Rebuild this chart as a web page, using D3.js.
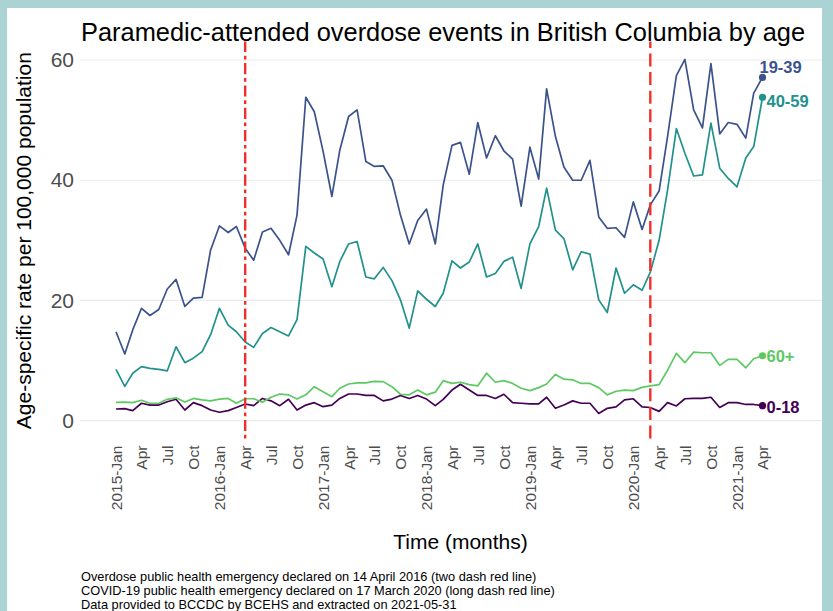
<!DOCTYPE html>
<html>
<head>
<meta charset="utf-8">
<script src="https://cdn.jsdelivr.net/npm/d3@7"></script>
<style>
  html, body { margin: 0; padding: 0; background: #abd3d3; }
  svg { display: block; }
  text { font-family: "Liberation Sans", Arial, sans-serif; }
</style>
</head>
<body>
<svg id="chart" width="833" height="611"></svg>
<script>
// ---- data ----
const startMonth = new Date(2015, 0, 1);
const endMonth = new Date(2021, 3, 1);
const months = d3.timeMonth.range(startMonth, d3.timeMonth.offset(endMonth, 1));

const seriesNames = ["0-18", "19-39", "40-59", "60+"];
const seriesColors = ["#440154", "#3b528b", "#21918c", "#5ec962"];

const age0_18 = [1.95,2.0,1.67,2.9,2.6,2.6,3.16,3.56,1.78,3.0,
  2.5,1.78,1.4,1.67,2.2,2.78,2.5,3.7,3.3,2.5,
  3.56,1.78,2.6,3.0,2.33,2.6,3.7,4.44,4.44,4.2,
  4.2,3.3,3.6,4.2,3.7,4.2,3.6,2.5,3.56,5.1,
  6.05,5.1,4.2,4.2,3.7,4.4,3.0,2.9,2.8,2.8,
  3.9,2.06,2.6,3.3,2.9,2.9,1.2,2.06,2.3,3.45,
  3.65,2.3,2.2,1.55,3.0,2.45,3.65,3.7,3.7,3.9,
  2.2,3.0,3.0,2.7,2.7,2.5];
const age19_39 = [14.8,11.1,15.1,18.7,17.5,18.5,21.9,23.5,19.0,20.4,
  20.5,28.4,32.4,31.3,32.3,28.7,26.7,31.4,32.0,30.0,
  27.6,34.2,53.8,51.4,44.8,37.3,45.0,50.6,51.7,43.1,
  42.3,42.4,40.0,34.2,29.4,33.3,35.2,29.4,39.2,45.8,
  46.3,41.0,49.6,43.7,47.4,44.9,43.5,35.7,45.5,40.2,
  55.2,47.3,42.2,40.0,40.0,43.3,33.9,32.0,32.1,30.5,
  36.4,31.8,35.9,38.2,47.3,57.4,60.1,51.7,48.7,59.4,
  47.7,49.6,49.3,47.0,54.5,57.1];
const age40_59 = [8.55,5.7,7.9,9.0,8.7,8.55,8.3,12.3,9.65,10.4,
  11.5,14.3,18.7,15.9,14.8,13.1,12.2,14.5,15.5,14.8,
  14.1,16.8,29.0,27.9,26.9,22.3,26.5,29.4,29.8,23.9,
  23.6,25.5,23.3,20.1,15.4,21.6,20.2,19.0,21.2,26.6,
  25.4,26.4,29.4,23.9,24.5,26.5,27.2,22.0,29.4,32.3,
  38.7,31.7,30.3,25.1,28.1,27.7,20.1,18.0,25.4,21.2,
  22.6,21.7,24.7,30.0,38.4,48.6,44.5,40.7,40.9,49.5,
  42.0,40.3,38.9,43.7,45.6,53.8];
const age60plus = [3.06,3.1,3.0,3.4,2.9,2.9,3.56,3.8,3.1,3.7,
  3.45,3.3,3.6,3.7,2.9,3.65,3.65,3.06,3.9,4.44,
  4.3,3.6,4.3,5.66,4.8,4.0,5.4,6.1,6.3,6.3,
  6.55,6.5,5.66,4.4,4.3,5.1,4.3,4.75,6.66,6.2,
  6.4,6.0,5.8,7.9,6.4,6.66,6.2,5.4,5.0,5.5,
  6.1,7.7,6.9,6.8,6.2,6.2,5.5,4.3,4.9,5.1,
  5.0,5.55,5.8,6.0,8.4,11.2,9.65,11.4,11.3,11.3,
  9.2,10.2,10.2,8.8,10.3,10.8];
const seriesValues = [age0_18, age19_39, age40_59, age60plus];

const yTicks = [0, 20, 40, 60];
const xTickLabels = ["2015-Jan","Apr","Jul","Oct","2016-Jan","Apr","Jul","Oct",
  "2017-Jan","Apr","Jul","Oct","2018-Jan","Apr","Jul","Oct",
  "2019-Jan","Apr","Jul","Oct","2020-Jan","Apr","Jul","Oct","2021-Jan","Apr"];
const xTickDates = d3.timeMonth.every(3).range(startMonth, d3.timeMonth.offset(endMonth, 1));

const eventDates = [new Date(2016, 3, 1), new Date(2020, 2, 1)];
const eventDash = ["3.7,3.7,11.2,3.7", "13,5.6"];

const titleText = "Paramedic-attended overdose events in British Columbia by age";
const yTitle = "Age-specific rate per 100,000 population";
const xTitle = "Time (months)";
const captionLines = [
  "Overdose public health emergency declared on 14 April 2016 (two dash red line)",
  "COVID-19 public health emergency declared on 17 March 2020 (long dash red line)",
  "Data provided to BCCDC by BCEHS and extracted on 2021-05-31"
];

// ---- layout ----
const svg = d3.select("#chart");
const panel = { left: 80, right: 822, top: 41.5, bottom: 438.5 };

svg.append("rect").attr("x", 7).attr("y", 8).attr("width", 815).attr("height", 603).attr("fill", "#ffffff");

const x = d3.scaleTime().domain([startMonth, endMonth]).range([116, 762.5]);
const y = d3.scaleLinear().domain([0, 60]).range([420.7, 60]);

// gridlines
svg.append("g").selectAll("line").data(yTicks).join("line")
  .attr("x1", panel.left).attr("x2", panel.right)
  .attr("y1", d => y(d)).attr("y2", d => y(d))
  .attr("stroke", "#ebebeb").attr("stroke-width", 1.2);

// y axis
const yAxis = svg.append("g").attr("transform", `translate(${panel.left},0)`)
  .call(d3.axisLeft(y).tickValues(yTicks).tickSize(0).tickPadding(6));
yAxis.select(".domain").remove();
yAxis.selectAll("text").attr("font-size", 21).attr("fill", "#4d4d4d")
  .attr("font-family", "'Liberation Sans', Arial, sans-serif");

// x axis
const xAxis = svg.append("g").attr("transform", `translate(0,${panel.bottom})`)
  .call(d3.axisBottom(x).tickValues(xTickDates).tickFormat((d, i) => xTickLabels[i]).tickSize(0));
xAxis.select(".domain").remove();
xAxis.selectAll("text")
  .attr("font-size", 15.5).attr("fill", "#4d4d4d")
  .attr("font-family", "'Liberation Sans', Arial, sans-serif")
  .attr("transform", "rotate(-90)")
  .attr("text-anchor", "end")
  .attr("x", -7).attr("y", 0).attr("dy", "0.35em");

// lines
const line = d3.line().x((d, i) => x(months[i])).y(d => y(d));
svg.append("g").selectAll("path").data(seriesValues).join("path")
  .attr("d", d => line(d))
  .attr("fill", "none")
  .attr("stroke", (d, i) => seriesColors[i])
  .attr("stroke-width", 1.7)
  .attr("stroke-linejoin", "round");

// end dots
const last = months.length - 1;
svg.append("g").selectAll("circle").data(seriesValues).join("circle")
  .attr("cx", x(months[last])).attr("cy", d => y(d[last]))
  .attr("r", 3.6).attr("fill", (d, i) => seriesColors[i]);

// end labels (small pixel nudges like ggrepel)
const labelNudge = [[4, 1.5], [-3, -10.5], [4, 3.5], [4, 0.5]];
svg.append("g").selectAll("text").data(seriesValues).join("text")
  .attr("x", (d, i) => x(months[last]) + labelNudge[i][0])
  .attr("y", (d, i) => y(d[last]) + labelNudge[i][1])
  .attr("dy", "0.35em")
  .attr("font-size", 16.5).attr("font-weight", "bold")
  .attr("fill", (d, i) => seriesColors[i])
  .text((d, i) => seriesNames[i]);

// event lines
svg.append("g").selectAll("line").data(eventDates).join("line")
  .attr("x1", d => x(d)).attr("x2", d => x(d))
  .attr("y1", panel.bottom).attr("y2", panel.top)
  .attr("stroke", "#f0302a").attr("stroke-width", 2.4)
  .attr("stroke-dasharray", (d, i) => eventDash[i]);

// titles
svg.append("text").attr("x", 81).attr("y", 41)
  .attr("font-size", 26).attr("textLength", 724).attr("lengthAdjust", "spacingAndGlyphs")
  .attr("fill", "#000").text(titleText);

svg.append("text")
  .attr("transform", `translate(31,${(52.6 + 428.7) / 2}) rotate(-90)`)
  .attr("text-anchor", "middle").attr("font-size", 21).attr("fill", "#000")
  .text(yTitle);

svg.append("text").attr("x", 460.5).attr("y", 549)
  .attr("text-anchor", "middle").attr("font-size", 21).attr("fill", "#000")
  .text(xTitle);

svg.append("g").selectAll("text").data(captionLines).join("text")
  .attr("x", 81).attr("y", (d, i) => 581 + i * 14.2)
  .attr("font-size", 12.8).attr("fill", "#000")
  .text(d => d);
</script>
</body>
</html>
